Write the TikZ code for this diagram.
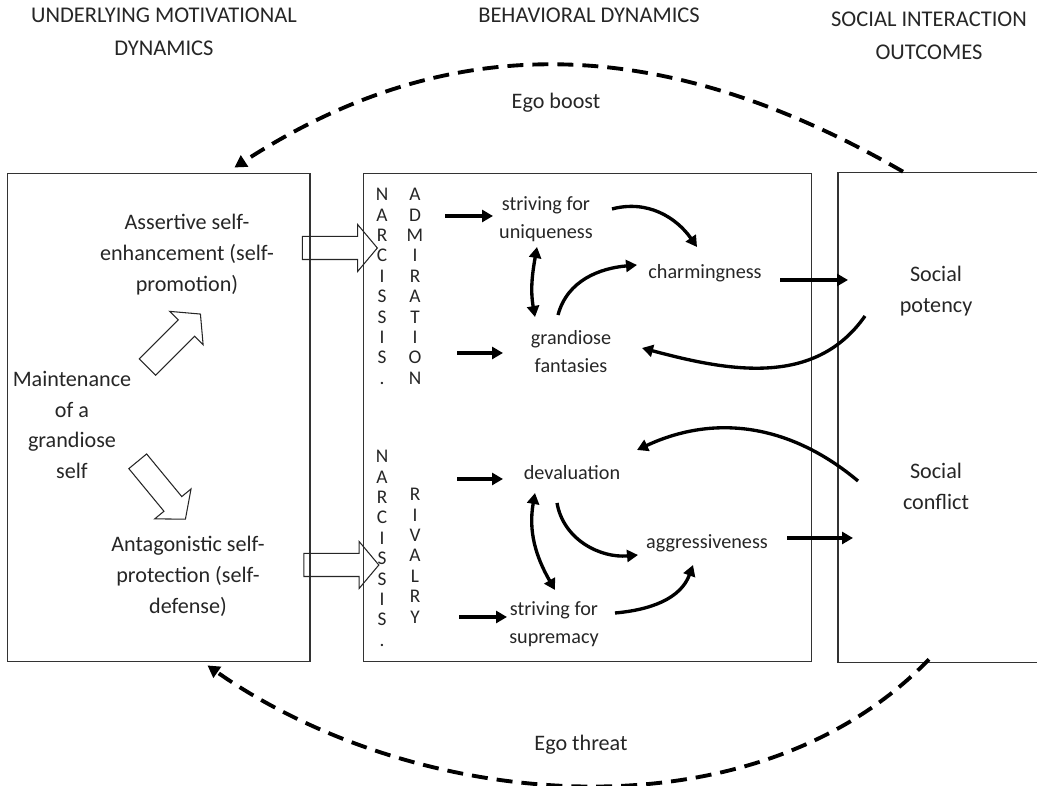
\documentclass[tikz,border=0pt]{standalone}
\usepackage{fontspec}
\setmainfont{Carlito}
\usetikzlibrary{arrows.meta,shapes.arrows,calc}
\begin{document}
\begin{tikzpicture}[
  x=0.02cm, y=0.02cm,
  font=\fontsize{12.6}{17.6}\selectfont,
  txt/.style={align=center, text=black!85, inner sep=0pt},
  inner/.style={align=center, text=black!85, inner sep=0pt, font=\fontsize{11.5}{16}\selectfont},
  head/.style={align=center, text=black!85, inner sep=0pt, font=\fontsize{12.8}{18.7}\selectfont},
  col/.style={align=center, text=black!85, inner sep=0pt, anchor=north, font=\fontsize{11}{11.6}\selectfont},
  panel/.style={draw=black!80, line width=0.6pt, inner sep=0pt, minimum height=9.78cm},
  block/.style={single arrow, draw=black!85, line width=0.6pt, inner xsep=0pt, inner ysep=0.22cm, minimum width=0pt, minimum height=1.5cm, single arrow head extend=0.24cm, single arrow tip angle=100},
  arr/.style={-{Triangle[length=0.22cm,width=0.24cm]}, line width=1.9pt},
  dbl/.style={{Triangle[length=0.22cm,width=0.24cm]}-{Triangle[length=0.22cm,width=0.24cm]}, line width=1.9pt},
  fb/.style={-{Triangle[length=0.24cm,width=0.26cm]}, line width=2.2pt, dash pattern=on 0.32cm off 0.18cm}
]
\useasboundingbox (0,0) rectangle (1037,786);

\node[head] (hmot) at (164,754.5) {UNDERLYING MOTIVATIONAL\\DYNAMICS};
\node[head] (hbeh) at (589,771) {BEHAVIORAL DYNAMICS};
\node[head] (hsoc) at (929,750) {SOCIAL INTERACTION\\OUTCOMES};

\node[panel, minimum width=6.06cm] (inbox) at (158.5,368.5) {};
\node[panel, minimum width=8.98cm] (midbox) at (587.5,368.5) {};
\node[inner sep=0pt, minimum width=4.2cm, minimum height=9.78cm, anchor=west] (outbox) at (838,368.5) {};
\draw[draw=black!80, line width=0.6pt] (outbox.north east) -- (outbox.north west) -- (outbox.south west) -- (outbox.south east);

\node[txt] (assert) at (187,531) {Assertive self-\\enhancement (self-\\promotion)};
\node[txt] (maint) at (72,361) {Maintenance\\of a\\grandiose\\self};
\node[txt] (antag) at (188,210) {Antagonistic self-\\protection (self-\\defense)};
\node[block, rotate=45] (upblk) at (170.5,442) {};
\node[block, rotate=-50.5] (dnblk) at (158.5,299.5) {};
\node[block] (toadm) at (335,538) {};
\node[block] (toriv) at (336.5,221) {};

\node[col] (narcA) at (382,598) {N\\A\\R\\C\\I\\S\\S\\I\\S\\.};
\node[col] (admir) at (415,598) {A\\D\\M\\I\\R\\A\\T\\I\\O\\N};
\node[col] (narcR) at (382,336) {N\\A\\R\\C\\I\\S\\S\\I\\S\\.};
\node[col] (rival) at (415,298) {R\\I\\V\\A\\L\\R\\Y};

\node[inner] (uniq) at (546,567) {striving for\\uniqueness};
\node[inner] (charm) at (705,513) {charmingness};
\node[inner] (fant) at (571,434) {grandiose\\fantasies};
\node[inner] (deval) at (572,313) {devaluation};
\node[inner] (aggr) at (707,243) {aggressiveness};
\node[inner] (supr) at (554,162) {striving for\\supremacy};
\node[txt] (potency) at (936,495) {Social\\potency};
\node[txt] (conflict) at (936,300) {Social\\conflict};
\node[txt] (boost) at (556,683) {Ego boost};
\node[txt] (threat) at (581,41) {Ego threat};

\draw[arr] ($(uniq)+(-101,3)$) -- ($(uniq)+(-53,3)$);
\draw[arr] ($(fant)+(-114,-1)$) -- ($(fant)+(-68,-1)$);
\draw[arr] ($(deval)+(-115,-6)$) -- ($(deval)+(-69,-6)$);
\draw[arr] ($(supr)+(-95,7)$) -- ($(supr)+(-47,7)$);

\draw[arr] ($(uniq)+(66,10)$) to[out=15,in=125] ($(charm)+(-8,26)$);
\draw[arr] ($(fant)+(-13,37)$) to[out=75,in=185] ($(charm)+(-68,8)$);
\draw[dbl] ($(uniq)+(-9,-28)$) to[out=260,in=100] ($(fant)+(-36,35)$);
\draw[arr] ($(charm)+(75,-7)$) -- ($(charm -| outbox.west)+(10,-7)$);
\draw[arr] ($(potency)+(-71,-25)$) to[out=235,in=-15] ($(fant)+(71,4)$);

\draw[dbl] ($(deval)+(-37,-20)$) to[out=260,in=120] ($(supr)+(1,34)$);
\draw[arr] ($(deval)+(-15,-30)$) to[out=280,in=185] ($(aggr)+(-69,-12)$);
\draw[arr] ($(supr)+(61,11)$) to[out=5,in=250] ($(aggr)+(-14,-22)$);
\draw[arr] ($(conflict)+(-78,5)$) to[out=140,in=25] ($(deval)+(65,23)$);
\draw[arr] ($(aggr)+(80,5)$) -- ($(aggr -| outbox.west)+(15,5)$);

\draw[fb] ($(outbox.north west)+(65,1)$) to[out=150,in=33,out looseness=1.15,in looseness=0.9] ($(inbox.north west)+(228,5)$);
\draw[fb] ($(outbox.south west)+(91,3)$) to[out=226,in=-35,looseness=0.9] ($(inbox.south west)+(201,-3)$);
\end{tikzpicture}
\end{document}
